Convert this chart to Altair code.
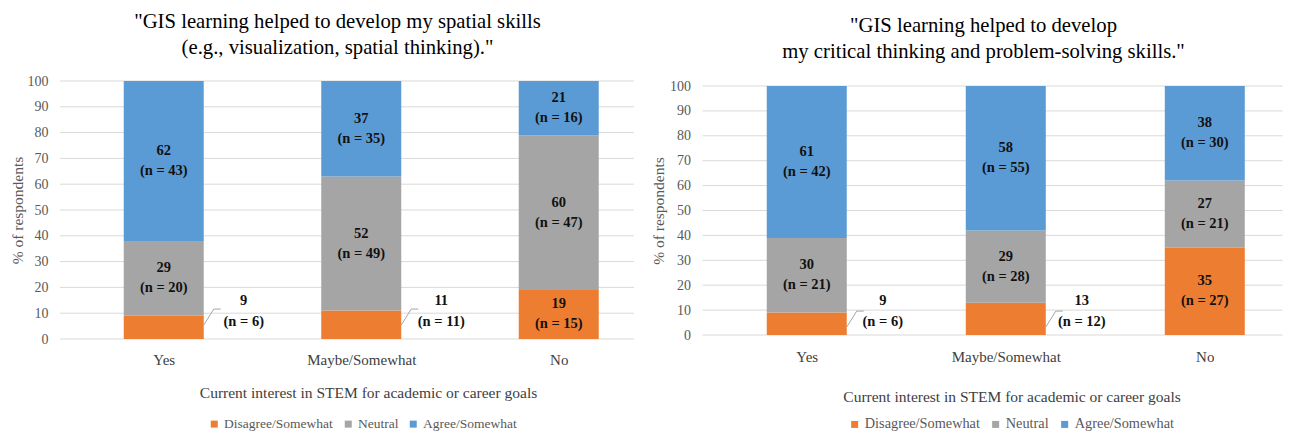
import json
import altair as alt
import pandas as pd

categories = ["Yes", "Maybe/Somewhat", "No"]
responses = ["Disagree/Somewhat", "Neutral", "Agree/Somewhat"]
colors = ["#ED7D31", "#A5A5A5", "#5B9BD5"]

# Left panel: spatial skills (% and n)
spatial_disagree = [9, 11, 19]
spatial_neutral = [29, 52, 60]
spatial_agree = [62, 37, 21]
spatial_n_disagree = [6, 11, 15]
spatial_n_neutral = [20, 49, 47]
spatial_n_agree = [43, 35, 16]

# Right panel: critical thinking / problem-solving (% and n)
critical_disagree = [9, 13, 35]
critical_neutral = [30, 29, 27]
critical_agree = [61, 58, 38]
critical_n_disagree = [6, 12, 27]
critical_n_neutral = [21, 28, 21]
critical_n_agree = [42, 55, 30]

y_ticks = list(range(0, 101, 10))

title_left = ['"GIS learning helped to develop my spatial skills',
              '(e.g., visualization, spatial thinking)."']
title_right = ['"GIS learning helped to develop',
               'my critical thinking and problem-solving skills."']
x_title = "Current interest in STEM for academic or career goals"
y_title = "% of respondents"

FONT = "Liberation Serif"


def build_frame(pcts, ns):
    rows = []
    for i, c in enumerate(categories):
        lo = 0
        for j, r in enumerate(responses):
            p = pcts[j][i]
            k = ns[j][i]
            rows.append(dict(idx=i, cat=c, resp=r, lo=lo, hi=lo + p, mid=lo + p / 2,
                             label=f"{p}\n(n = {k})", outside=p < 15))
            lo += p
    return pd.DataFrame(rows)


def panel(df, title_lines, width, height, y_top_gap, x_domain, title_dx, title_offset,
          lab_dx, lab_y, lead_y0, lead_y1, legend_x, legend_y, legend_fs, x_title_x,
          ytitle_pad, xlabel_pad, xtitle_pad):
    x_scale = alt.Scale(domain=x_domain, nice=False, zero=False)
    x_axis = alt.Axis(title=x_title, values=list(range(len(categories))),
                      labelExpr=json.dumps(categories) + "[datum.value]",
                      labelAngle=0, domain=False, ticks=False, grid=False, labelOverlap=False,
                      labelFont=FONT, labelFontSize=15, labelColor="#404040",
                      labelPadding=xlabel_pad, titleFont=FONT, titleFontSize=15.5,
                      titleFontWeight="normal", titleColor="#404040",
                      titlePadding=xtitle_pad, titleX=x_title_x)
    y_scale = alt.Scale(domain=[0, 100], range=[height, y_top_gap], nice=False)
    y_axis = alt.Axis(values=y_ticks, title=y_title, domain=False, ticks=False,
                      grid=False, labelOverlap=False,
                      labelFont=FONT, labelFontSize=14, labelColor="#595959",
                      labelPadding=12, titleFont=FONT, titleFontSize=15.5,
                      titleFontWeight="normal", titleColor="#595959",
                      titlePadding=ytitle_pad)

    def X(field="idx"):
        return alt.X(field, type="quantitative", scale=x_scale, axis=x_axis)

    def Y(field):
        return alt.Y(field, type="quantitative", scale=y_scale, axis=y_axis)

    grid = alt.Chart(pd.DataFrame({"v": y_ticks})).mark_rule(
        color="#D9D9D9", strokeWidth=1
    ).encode(y=Y("v"), x=alt.value(0), x2=alt.value(width))

    base = alt.Chart(df)
    bars = base.mark_bar(size=80).encode(
        x=X(),
        y=Y("lo"),
        y2="hi:Q",
        color=alt.Color("resp:N", scale=alt.Scale(domain=responses, range=colors),
                        legend=alt.Legend(orient="none", legendX=legend_x, legendY=legend_y,
                                          direction="horizontal", title=None,
                                          symbolType="square", symbolSize=49,
                                          symbolStrokeWidth=0, labelFont=FONT,
                                          labelFontSize=legend_fs, labelColor="#595959",
                                          columnPadding=8, labelOffset=3, padding=0)),
    )
    inside = base.transform_filter("!datum.outside").mark_text(
        font=FONT, fontSize=14.5, fontWeight="bold", color="#111111",
        lineBreak="\n", baseline="middle", lineHeight=20, dy=-10
    ).encode(x=X(), y=Y("mid"), text="label:N")
    outside = base.transform_filter("datum.outside").transform_calculate(
        ly=str(lab_y)
    ).mark_text(
        font=FONT, fontSize=14.5, fontWeight="bold", color="#111111",
        lineBreak="\n", baseline="middle", lineHeight=21, dx=lab_dx, dy=-10.5
    ).encode(x=X(), y=Y("ly"), text="label:N")
    lead_diag = base.transform_filter("datum.outside").transform_calculate(
        a=str(lead_y0), b=str(lead_y1)
    ).mark_rule(color="#A6A6A6", strokeWidth=1, xOffset=40, x2Offset=50).encode(
        x=X(), x2="idx:Q", y=Y("a"), y2="b:Q")
    lead_flat = base.transform_filter("datum.outside").transform_calculate(
        b=str(lead_y1)
    ).mark_rule(color="#A6A6A6", strokeWidth=1, xOffset=50, x2Offset=57).encode(
        x=X(), x2="idx:Q", y=Y("b"), y2="b:Q")
    return alt.layer(grid, bars, lead_diag, lead_flat, inside, outside).properties(
        width=width, height=height,
        title=alt.TitleParams(text=title_lines[0], subtitle=title_lines[1],
                              font=FONT, fontSize=20.7, fontWeight="normal",
                              color="#000000", anchor="middle", lineHeight=21,
                              subtitleFont=FONT, subtitleFontSize=20.7,
                              subtitleColor="#000000", subtitleLineHeight=21,
                              subtitlePadding=6, frame="group",
                              dx=title_dx, offset=title_offset),
    )


df_left = build_frame([spatial_disagree, spatial_neutral, spatial_agree],
                      [spatial_n_disagree, spatial_n_neutral, spatial_n_agree])
df_right = build_frame([critical_disagree, critical_neutral, critical_agree],
                       [critical_n_disagree, critical_n_neutral, critical_n_agree])

# x domains place the category centres one step (~201 px) apart
left = panel(df_left, title_left, 574, 258, 0, [-0.5, 2.3557], -9.5, 15,
             80, 10.7, 5.4, 11.6, 147.5, 336, 13.5, 308, 2, 13, 18)
right = panel(df_right, title_right, 580, 254, 5, [-0.4988, 2.3654], -9, 16,
              76, 9.4, 3.2, 9.6, 145, 336, 14.3, 309, 3.5, 14, 25)

chart = alt.hconcat(left, right, spacing=15.5).resolve_scale(
    color="independent", x="independent", y="independent"
).resolve_legend(color="independent").properties(
    padding={"left": 2, "right": 0, "top": 2, "bottom": 0}
).configure_view(stroke=None).configure_legend(labelFont=FONT).configure_axis(
    labelFont=FONT, titleFont=FONT)

chart.save("out.html", embed_options={"renderer": "svg", "actions": False})
